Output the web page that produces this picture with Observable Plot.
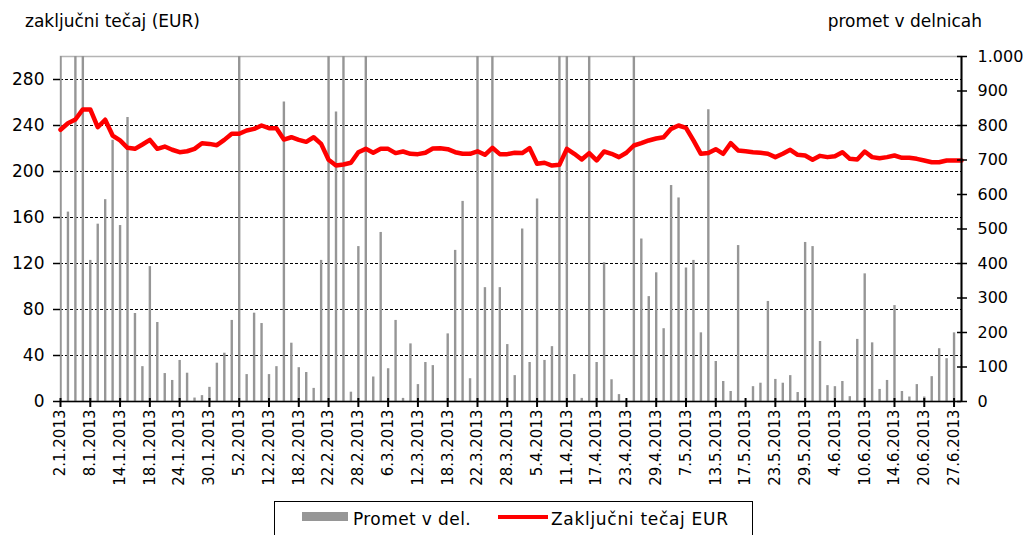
<!DOCTYPE html>
<html><head><meta charset="utf-8">
<script src="https://cdn.jsdelivr.net/npm/d3@7"></script>
<script src="https://cdn.jsdelivr.net/npm/@observablehq/plot@0.6"></script>
<style>
body{margin:0;background:#fff;font-family:"DejaVu Sans",sans-serif;}
#wrap{position:relative;width:1026px;height:535px;overflow:hidden;background:#fff;}
.t{position:absolute;font-size:17px;line-height:17px;white-space:nowrap;color:#000;}
#chart{position:absolute;left:0;top:0;}
#legend{position:absolute;left:274px;top:501px;width:477px;height:40px;border:1px solid #000;background:#fff;}
#legend div{position:absolute;}
</style></head><body>
<div id="wrap">
<div id="chart"></div>
<div class="t" style="left:25px;top:13px">zaključni tečaj (EUR)</div>
<div class="t" style="right:44px;top:13px">promet v delnicah</div>
<div id="legend"></div>
</div>
<script>
const days = ["2.1.2013","3.1.2013","4.1.2013","7.1.2013","8.1.2013","9.1.2013","10.1.2013","11.1.2013","14.1.2013","15.1.2013","16.1.2013","17.1.2013","18.1.2013","21.1.2013","22.1.2013","23.1.2013","24.1.2013","25.1.2013","28.1.2013","29.1.2013","30.1.2013","31.1.2013",
"1.2.2013","4.2.2013","5.2.2013","6.2.2013","7.2.2013","11.2.2013","12.2.2013","13.2.2013","14.2.2013","15.2.2013","18.2.2013","19.2.2013","20.2.2013","21.2.2013","22.2.2013","25.2.2013","26.2.2013","27.2.2013","28.2.2013",
"1.3.2013","4.3.2013","5.3.2013","6.3.2013","7.3.2013","8.3.2013","11.3.2013","12.3.2013","13.3.2013","14.3.2013","15.3.2013","18.3.2013","19.3.2013","20.3.2013","21.3.2013","22.3.2013","25.3.2013","26.3.2013","27.3.2013","28.3.2013",
"2.4.2013","3.4.2013","4.4.2013","5.4.2013","8.4.2013","9.4.2013","10.4.2013","11.4.2013","12.4.2013","15.4.2013","16.4.2013","17.4.2013","18.4.2013","19.4.2013","22.4.2013","23.4.2013","24.4.2013","25.4.2013","26.4.2013","29.4.2013","30.4.2013",
"3.5.2013","6.5.2013","7.5.2013","8.5.2013","9.5.2013","10.5.2013","13.5.2013","14.5.2013","15.5.2013","16.5.2013","17.5.2013","20.5.2013","21.5.2013","22.5.2013","23.5.2013","24.5.2013","27.5.2013","28.5.2013","29.5.2013","30.5.2013","31.5.2013",
"3.6.2013","4.6.2013","5.6.2013","6.6.2013","7.6.2013","10.6.2013","11.6.2013","12.6.2013","13.6.2013","14.6.2013","17.6.2013","18.6.2013","19.6.2013","20.6.2013","21.6.2013","24.6.2013","26.6.2013","27.6.2013","28.6.2013"];

// Promet v delnicah (volume, right axis)
const volume = [1200,549,1200,1200,409,514,585,757,510,823,255,101,391,229,81,61,119,82,10,17,41,111,
140,235,1200,78,256,226,78,101,868,169,98,84,38,409,1200,839,1200,27,449,
1200,71,490,95,235,9,167,49,113,104,0,196,438,580,66,1200,330,1200,330,165,
75,500,113,587,119,159,1200,1200,78,9,1200,113,402,63,20,0,1200,471,304,373,211,
626,590,387,409,199,846,116,58,29,452,0,43,53,290,64,53,75,26,461,449,174,
46,43,58,14,180,370,170,35,61,278,29,13,49,13,72,153,124,199,0];

// Zaključni tečaj EUR (left axis)
const price = [236.3,242,245.2,254,254,238.5,245,231.3,227,220.6,219.7,223.5,227.5,219.7,221.7,218.9,216.8,217.6,219.7,224.6,224,222.9,
227.5,232.8,232.8,235.7,237.1,240,237.7,237.7,227.8,229.8,227.5,225.8,229.8,224,210.2,205.2,206.1,207.6,216.8,
219.7,216.3,219.7,219.7,216,217.4,215.4,215.1,216.3,220,220.3,219.4,216.8,215.4,215.4,217.6,214.5,220.6,215.1,215.1,
216.3,216,220.3,206.7,207.6,205.2,205.8,219.7,215.4,210.4,216,209.6,217.4,215.4,212.5,216.3,222.6,224.6,227,228.7,229.8,
237.1,240,238,227,215.4,216,219.4,215.4,224.6,218.3,217.6,216.8,216.3,215.4,212.5,215.4,218.9,214.5,213.9,210.2,213.6,
212.5,213.3,216.8,211,210.4,217.4,212.5,211.6,212.5,213.9,211.9,211.9,211,209.6,208.1,208.1,209.6,209.6,209.6];

const tickLabels = ["2.1.2013","8.1.2013","14.1.2013","18.1.2013","24.1.2013","30.1.2013","5.2.2013","12.2.2013","18.2.2013","22.2.2013","28.2.2013","6.3.2013","12.3.2013","18.3.2013","22.3.2013","28.3.2013","5.4.2013","11.4.2013","17.4.2013","23.4.2013","29.4.2013","7.5.2013","13.5.2013","17.5.2013","23.5.2013","29.5.2013","4.6.2013","10.6.2013","14.6.2013","20.6.2013","27.6.2013"];
const leftTicks = [0,40,80,120,160,200,240,280];
const rightTicks = [0,100,200,300,400,500,600,700,800,900,1000];
const rightLabels = ["0","100","200","300","400","500","600","700","800","900","1.000"];
const leftMax = 300, rightMax = 1000;
const volScale = leftMax / rightMax;

const data = days.map((d, i) => ({day: d, vol: volume[i], price: price[i]}));
const rightPos = rightTicks.map(v => v * volScale);

const chart = Plot.plot({
  width: 1026, height: 500,
  marginTop: 56, marginBottom: 99, marginLeft: 60, marginRight: 65,
  style: {fontFamily: "DejaVu Sans", background: "transparent", color: "#000", overflow: "visible"},
  x: {type: "point", domain: days, padding: 0},
  y: {domain: [0, leftMax]},
  marks: [
    Plot.frame({stroke: "#b4b4b4", strokeWidth: 1.5}),
    Plot.ruleY(leftTicks.filter(d => d > 0), {stroke: "#000", strokeDasharray: "3,2", strokeWidth: 1}),
    Plot.ruleX(data, {x: "day", y1: 0, y2: d => d.vol * volScale, stroke: "#969696", strokeWidth: 2.4, clip: true}),
    Plot.lineY(data, {x: "day", y: "price", stroke: "#ff0000", strokeWidth: 4.5}),
    Plot.ruleY([0], {stroke: "#000", strokeWidth: 1.5}),
    Plot.ruleX([days[days.length - 1]], {stroke: "#000", strokeWidth: 2}),
    Plot.axisY({ticks: leftTicks, tickSize: 7, tickPadding: 9, fontSize: 17, label: null, strokeWidth: 1.5}),
    Plot.axisY({anchor: "right", ticks: rightPos, tickFormat: d => rightLabels[Math.round(d / volScale / 100)], tickSize: 5, tickPadding: 11, fontSize: 16, label: null, strokeWidth: 1.5}),
    Plot.axisY({anchor: "right", ticks: rightPos, tickFormat: () => "", tickSize: 5, dx: -5, label: null, strokeWidth: 1.5}),
    Plot.axisX({ticks: tickLabels, tickRotate: -90, tickSize: 6, tickPadding: 2, fontSize: 15, label: null, strokeWidth: 2}),
    Plot.axisX({ticks: tickLabels, tickFormat: () => "", tickSize: 3, dy: -3, label: null, strokeWidth: 2})
  ]
});
document.getElementById("chart").appendChild(chart);

// Legend
const legendItems = [
  {label: "Promet v del.", kind: "bar", color: "#969696"},
  {label: "Zaključni tečaj EUR", kind: "line", color: "#ff0000"}
];
const lg = document.getElementById("legend");
const pos = [{sw: 27, tx: 78, ls: 0.4}, {sw: 223, tx: 276, ls: 0.7}];
legendItems.forEach((it, i) => {
  const s = document.createElement("div");
  s.style.left = pos[i].sw + "px";
  s.style.width = (it.kind === "bar" ? 46 : 50) + "px";
  s.style.top = (it.kind === "bar" ? 10 : 13) + "px";
  s.style.height = (it.kind === "bar" ? 9 : 3.5) + "px";
  s.style.background = it.color;
  lg.appendChild(s);
  const t = document.createElement("div");
  t.textContent = it.label;
  t.style.left = pos[i].tx + "px";
  t.style.top = "9px";
  t.style.fontSize = "17px";
  t.style.lineHeight = "17px";
  t.style.letterSpacing = pos[i].ls + "px";
  t.style.whiteSpace = "nowrap";
  lg.appendChild(t);
});
</script>
</body></html>
